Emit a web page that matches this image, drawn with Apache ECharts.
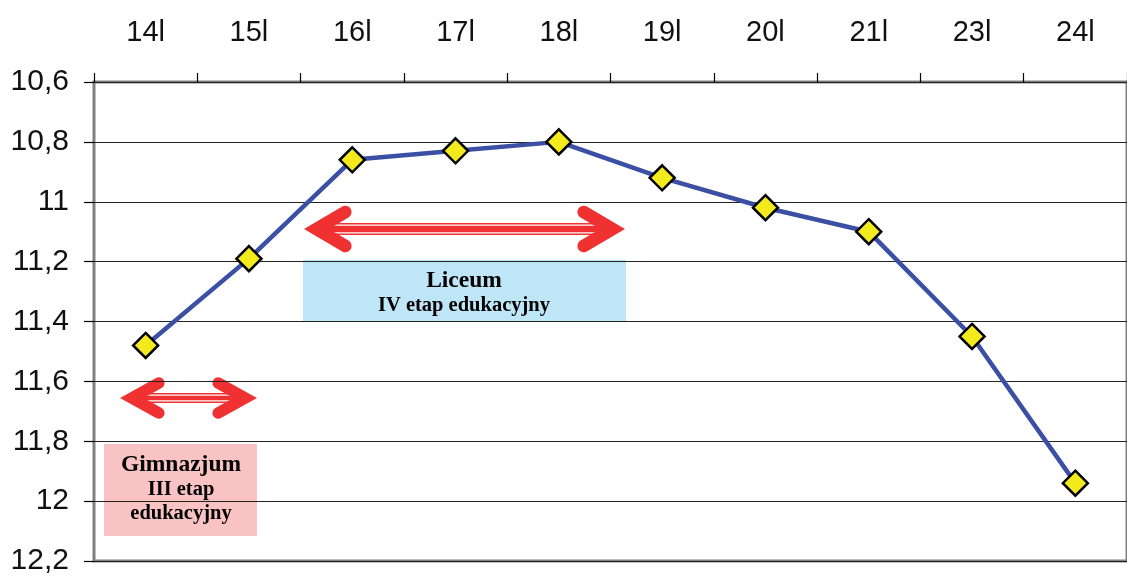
<!DOCTYPE html>
<html>
<head>
<meta charset="utf-8">
<script src="https://cdn.jsdelivr.net/npm/echarts@6/dist/echarts.min.js"></script>
<style>html,body{margin:0;padding:0;background:#fff}#c{width:1127px;height:576px}</style>
</head>
<body>
<div id="c"></div>
<script>
const categories = ['14l','15l','16l','17l','18l','19l','20l','21l','23l','24l'];
const values = [11.48, 11.19, 10.86, 10.83, 10.80, 10.92, 11.02, 11.10, 11.45, 11.94];
const yTickLabels = ['10,6','10,8','11','11,2','11,4','11,6','11,8','12','12,2'];
const yMin = 10.6, yMax = 12.2, yStep = 0.2;

const RED = '#ef3131';
function arrow(x1, x2, y, armDx, armDy, lw, shaftH) {
  const ext = lw / 2 / Math.sin(Math.atan2(armDy, armDx));
  const vl = x1 + ext, vr = x2 - ext;
  const els = [];
  els.push({type:'rect', shape:{x:vl, y:y - shaftH/2, width:vr - vl, height:shaftH}, style:{fill:RED}});
  els.push({type:'line', shape:{x1:vl+4, y1:y - shaftH/2 + 2.2, x2:vr-4, y2:y - shaftH/2 + 2.2}, style:{stroke:'#fff', lineWidth:1.3}});
  els.push({type:'line', shape:{x1:vl+4, y1:y + shaftH/2 - 2.2, x2:vr-4, y2:y + shaftH/2 - 2.2}, style:{stroke:'#fff', lineWidth:1.3}});
  els.push({type:'polyline', shape:{points:[[vl+armDx, y-armDy],[vl, y],[vl+armDx, y+armDy]]}, style:{stroke:RED, lineWidth:lw, fill:null, lineCap:'round', lineJoin:'miter'}});
  els.push({type:'polyline', shape:{points:[[vr-armDx, y-armDy],[vr, y],[vr-armDx, y+armDy]]}, style:{stroke:RED, lineWidth:lw, fill:null, lineCap:'round', lineJoin:'miter'}});
  return els;
}
const serif = '"Liberation Serif","Times New Roman",serif';
const graphics = [
  ...arrow(304, 625, 229, 29, 17, 12.5, 12),
  ...arrow(120, 257, 398, 27, 15, 11.5, 10),
  {type:'rect', shape:{x:303, y:260, width:323, height:62}, style:{fill:'#bfe6f7'}},
  {type:'text', x:464, y:281, style:{text:'Liceum', font:'bold 23.5px ' + serif, fill:'#000', align:'center', verticalAlign:'middle'}},
  {type:'text', x:464, y:306, style:{text:'IV etap edukacyjny', font:'bold 20.5px ' + serif, fill:'#000', align:'center', verticalAlign:'middle'}},
  {type:'rect', shape:{x:104, y:444, width:153, height:92}, style:{fill:'#f9c3c3'}},
  {type:'text', x:181, y:465, style:{text:'Gimnazjum', font:'bold 23.5px ' + serif, fill:'#000', align:'center', verticalAlign:'middle'}},
  {type:'text', x:181, y:490, style:{text:'III etap', font:'bold 20.5px ' + serif, fill:'#000', align:'center', verticalAlign:'middle'}},
  {type:'text', x:181, y:514, style:{text:'edukacyjny', font:'bold 20.5px ' + serif, fill:'#000', align:'center', verticalAlign:'middle'}}
];

const chart = echarts.init(document.getElementById('c'));
chart.setOption({
  animation: false,
  grid: {left:94, right:-7, top:82, bottom:11, show:true, borderColor:'#808080', borderWidth:3, backgroundColor:'transparent'},
  xAxis: {
    type:'category', position:'top', data:categories, boundaryGap:true,
    axisLine:{show:false},
    axisTick:{show:true, length:9, lineStyle:{color:'#000', width:1.2}},
    axisLabel:{fontSize:29, color:'#111', fontFamily:'"Liberation Sans",Arial,sans-serif', margin:35},
    splitLine:{show:false}
  },
  yAxis: {
    type:'value', inverse:true, min:yMin, max:yMax, interval:yStep,
    axisLine:{show:false},
    axisTick:{show:true, length:10, lineStyle:{color:'#000', width:1.2}},
    axisLabel:{fontSize:30, color:'#111', fontFamily:'"Liberation Sans",Arial,sans-serif', margin:25,
      formatter:(v)=> yTickLabels[Math.round((v - yMin)/yStep)]},
    splitLine:{show:true, lineStyle:{color:'#222', width:1.2}}
  },
  series: [{
    type:'line', data:values, symbol:'diamond', symbolSize:25,
    lineStyle:{color:'#3b4fa4', width:4.5},
    itemStyle:{color:'#f2ea1c', borderColor:'#000', borderWidth:2.5},
    z:5
  }],
  graphic: graphics
});
</script>
</body>
</html>
